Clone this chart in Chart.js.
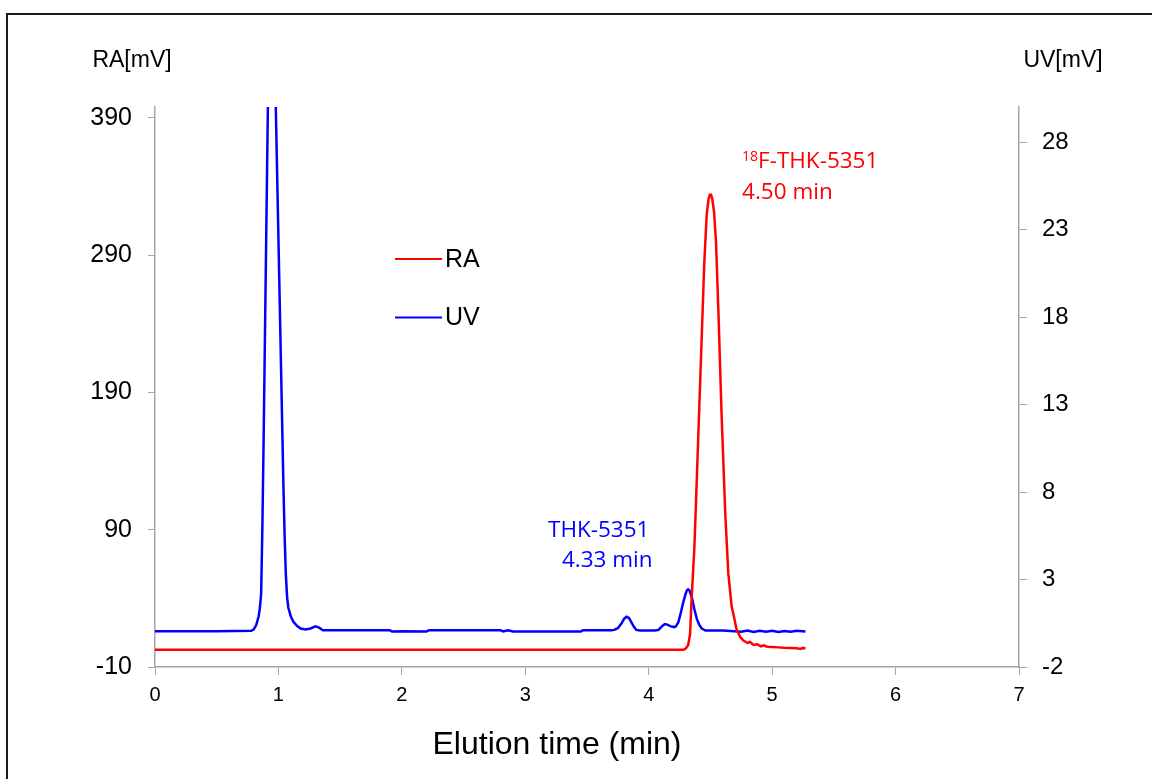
<!DOCTYPE html>
<html><head><meta charset="utf-8">
<script src="https://cdn.jsdelivr.net/npm/chart.js@4/dist/chart.umd.min.js"></script>
<style>html,body{margin:0;padding:0;background:#fff;}canvas{display:block;}</style>
</head><body>
<canvas id="c" width="1152" height="779"></canvas>
<script>
// ---- data ----
const uvTime  = [0, 0.5, 0.78, 0.80, 0.82, 0.84, 0.85, 0.86, 0.87, 0.88, 0.89, 0.90, 0.91, 0.92, 0.93, 0.94, 0.95, 0.96, 0.97, 0.98, 0.99, 1.00, 1.01, 1.02, 1.03, 1.04, 1.05, 1.06, 1.07, 1.08, 1.10, 1.12, 1.15, 1.18, 1.22, 1.26, 1.30, 1.33, 1.36, 1.5, 1.9, 1.92, 2.0, 2.2, 2.22, 2.8, 2.82, 2.86, 2.9, 3.3, 3.45, 3.47, 3.70, 3.72, 3.75, 3.78, 3.80, 3.82, 3.84, 3.86, 3.88, 3.90, 3.93, 4.05, 4.08, 4.11, 4.13, 4.15, 4.18, 4.21, 4.22, 4.24, 4.26, 4.28, 4.30, 4.31, 4.32, 4.33, 4.35, 4.37, 4.39, 4.41, 4.43, 4.46, 4.6, 4.75, 4.8, 4.85, 4.9, 4.95, 5.0, 5.05, 5.1, 5.15, 5.2, 5.27];
const uvValue = [0.05, 0.05, 0.07, 0.15, 0.4, 0.9, 1.4, 2.2, 6, 11, 16.5, 22, 27.5, 33, 38, 41, 40, 36.5, 33, 29.5, 26, 22.5, 19, 15.5, 12, 8.5, 5.5, 3.3, 2.0, 1.4, 0.9, 0.6, 0.35, 0.2, 0.15, 0.2, 0.32, 0.25, 0.1, 0.1, 0.1, 0.03, 0.04, 0.03, 0.1, 0.1, 0.03, 0.1, 0.03, 0.03, 0.03, 0.1, 0.1, 0.12, 0.22, 0.5, 0.75, 0.87, 0.8, 0.55, 0.3, 0.12, 0.08, 0.08, 0.12, 0.35, 0.45, 0.42, 0.32, 0.28, 0.32, 0.55, 1.1, 1.7, 2.2, 2.38, 2.44, 2.38, 1.95, 1.3, 0.75, 0.4, 0.2, 0.08, 0.08, 0.02, 0.08, 0.0, 0.07, 0.01, 0.07, 0.0, 0.06, 0.01, 0.07, 0.03];
const raTime  = [0, 4.28, 4.30, 4.32, 4.335, 4.35, 4.37, 4.39, 4.41, 4.43, 4.45, 4.47, 4.485, 4.495, 4.505, 4.515, 4.53, 4.545, 4.565, 4.59, 4.62, 4.645, 4.672, 4.69, 4.71, 4.74, 4.765, 4.80, 4.82, 4.85, 4.88, 4.91, 4.93, 4.96, 5.0, 5.05, 5.1, 5.15, 5.2, 5.23, 5.25, 5.27];
const raValue = [2.5, 2.5, 3.5, 6, 14, 44, 77, 128, 180, 232, 284, 320, 331, 334, 334, 331, 321, 300, 248, 175, 102, 58, 34, 27, 18, 12, 9.5, 7.5, 8.2, 6, 6.5, 5.0, 5.8, 4.8, 4.6, 4.3, 4.0, 3.8, 3.6, 3.2, 3.9, 3.5];
const xTicks  = [0, 1, 2, 3, 4, 5, 6, 7];
const raTicks = [-10, 90, 190, 290, 390];
const uvTicks = [-2, 3, 8, 13, 18, 23, 28];
const seriesNames = ['RA', 'UV'];
const xTitle = 'Elution time (min)';
const raAxisTitle = 'RA[mV]';
const uvAxisTitle = 'UV[mV]';
const peakLabels = [
  {sup: '18', text: 'F-THK-5351', x: 4.756, y: 353.6, axis: 'yRA', color: '#FF0000'},
  {sup: '',   text: '4.50 min',   x: 4.756, y: 331.0, axis: 'yRA', color: '#FF0000'},
  {sup: '',   text: 'THK-5351',   x: 3.184, y: 5.43,  axis: 'yUV', color: '#0000FF'},
  {sup: '',   text: '4.33 min',   x: 3.297, y: 3.72,  axis: 'yUV', color: '#0000FF'}
];

// ---- styles ----
const FONT = '"Liberation Sans", Arial, sans-serif';
const ANN_FONT = '"Open Sans", "Noto Sans", sans-serif';
const GREY = '#A6A6A6';
const RED = '#FF0000', BLUE = '#0000FF';

const toPts = (ts, vs) => ts.map((t, i) => ({x: t, y: vs[i]}));

const framePlugin = {
  id: 'frame',
  beforeDraw(chart) {
    const ctx = chart.ctx;
    ctx.save();
    ctx.fillStyle = '#fff';
    ctx.fillRect(0, 0, chart.width, chart.height);
    ctx.strokeStyle = '#1a1a1a';
    ctx.lineWidth = 2;
    ctx.beginPath();
    ctx.moveTo(7, chart.height);
    ctx.lineTo(7, 14);
    ctx.lineTo(chart.width, 14);
    ctx.stroke();
    ctx.restore();
  }
};

const overlayPlugin = {
  id: 'overlay',
  afterDraw(chart) {
    const ctx = chart.ctx;
    const ca = chart.chartArea;
    const xs = chart.scales.x;
    ctx.save();
    // axis titles at top
    ctx.fillStyle = '#000';
    ctx.font = '23px ' + FONT;
    ctx.textAlign = 'center';
    ctx.textBaseline = 'alphabetic';
    ctx.fillText(raAxisTitle, chart.scales.yRA.right - 23, 67);
    ctx.fillText(uvAxisTitle, chart.scales.yUV.left + 44, 67);

    // x-axis title (offset left as in the original layout)
    ctx.font = '32px ' + FONT;
    ctx.textBaseline = 'middle';
    ctx.fillText(xTitle, (ca.left + ca.right) / 2 - 30, xs.bottom - 34);

    // legend
    const lx = ca.left + 240, ly = ca.top + 152;
    chart.data.datasets.forEach((ds, i) => {
      const y = ly + i * 58.5;
      ctx.strokeStyle = ds.borderColor;
      ctx.lineWidth = 2;
      ctx.beginPath();
      ctx.moveTo(lx, y);
      ctx.lineTo(lx + 47, y);
      ctx.stroke();
      ctx.fillStyle = '#000';
      ctx.font = '25px ' + FONT;
      ctx.textAlign = 'left';
      ctx.textBaseline = 'middle';
      ctx.fillText(ds.label, lx + 50, y + 1);
    });

    // peak labels
    ctx.textAlign = 'left';
    ctx.textBaseline = 'alphabetic';
    peakLabels.forEach(p => {
      let px = xs.getPixelForValue(p.x);
      const py = chart.scales[p.axis].getPixelForValue(p.y);
      ctx.fillStyle = p.color;
      if (p.sup) {
        ctx.font = '14px ' + ANN_FONT;
        ctx.fillText(p.sup, px, py - 7);
        px += ctx.measureText(p.sup).width;
      }
      ctx.font = '22.5px ' + ANN_FONT;
      ctx.fillText(p.text, px, py);
    });
    ctx.restore();
  }
};

function axisGrid(len) {
  return {display: true, drawOnChartArea: false, drawTicks: true, tickLength: len, color: GREY, lineWidth: 1};
}

new Chart(document.getElementById('c'), {
  type: 'line',
  data: {
    datasets: [
      {label: seriesNames[0], data: toPts(raTime, raValue), yAxisID: 'yRA', borderColor: RED, backgroundColor: RED, borderWidth: 2.5, pointRadius: 0, tension: 0, fill: false},
      {label: seriesNames[1], data: toPts(uvTime, uvValue), yAxisID: 'yUV', borderColor: BLUE, backgroundColor: BLUE, borderWidth: 2.5, pointRadius: 0, tension: 0, fill: false}
    ]
  },
  options: {
    responsive: false,
    animation: false,
    devicePixelRatio: 1,
    layout: {padding: {top: 107, left: 0, right: 0, bottom: 0}},
    plugins: {legend: {display: false}, tooltip: {enabled: false}},
    scales: {
      x: {
        type: 'linear', position: 'bottom', min: 0, max: 7,
        afterBuildTicks: a => { a.ticks = xTicks.map(v => ({value: v})); },
        afterFit: s => { s.height = 112; },
        grid: axisGrid(8),
        border: {display: true, color: GREY, width: 1.5},
        ticks: {color: '#000', font: {family: FONT, size: 20}, padding: 8, maxRotation: 0}
      },
      yRA: {
        type: 'linear', position: 'left', min: -10, max: 398,
        afterBuildTicks: a => { a.ticks = raTicks.map(v => ({value: v})); },
        afterFit: s => { s.width = 155; },
        grid: axisGrid(7),
        border: {display: true, color: GREY, width: 1.5},
        ticks: {color: '#000', font: {family: FONT, size: 25}, padding: 16}
      },
      yUV: {
        type: 'linear', position: 'right', min: -2, max: 30,
        afterBuildTicks: a => { a.ticks = uvTicks.map(v => ({value: v})); },
        afterFit: s => { s.width = 133; },
        grid: axisGrid(8),
        border: {display: true, color: GREY, width: 1.5},
        ticks: {color: '#000', font: {family: FONT, size: 24}, padding: 15}
      }
    }
  },
  plugins: [framePlugin, overlayPlugin]
});
</script>
</body></html>
